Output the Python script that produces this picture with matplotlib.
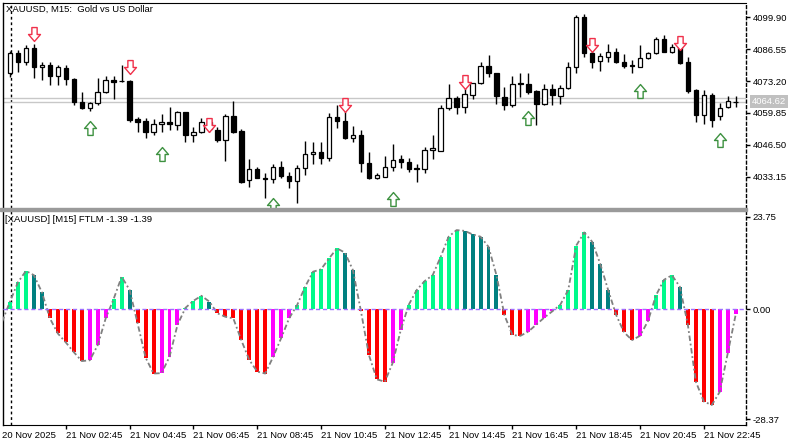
import numpy as np
import matplotlib.pyplot as plt
from matplotlib.path import Path
from matplotlib.patches import Rectangle

plt.rcParams['font.family'] = ['Liberation Sans', 'DejaVu Sans']

# XAUUSD M15, 21 Nov 2025, bars from 01:00 to 23:45
opens = [4076.45, 4085.07, 4081.05, 4086.92, 4078.96, 4079.92, 4075.32, 4078.79, 4074.06, 4064.55,
         4061.79, 4063.88, 4068.49, 4073.64, 4073.35, 4073.22, 4057.31, 4056.47, 4051.99, 4055.09,
         4056.18, 4054.80, 4060.12, 4050.61, 4051.74, 4056.18, 4052.70, 4048.51, 4058.69, 4052.28,
         4031.76, 4036.24, 4032.72, 4032.18, 4037.33, 4033.56, 4031.47, 4036.66, 4042.65, 4043.61,
         4040.85, 4058.02, 4056.47, 4049.23, 4050.61, 4038.76, 4032.47, 4033.14, 4037.08, 4040.43,
         4039.43, 4036.66, 4036.37, 4044.33, 4044.03, 4061.79, 4065.98, 4062.46, 4067.36, 4072.26,
         4079.50, 4076.45, 4066.65, 4063.17, 4072.26, 4071.84, 4069.03, 4063.46, 4069.87, 4067.07,
         4070.17, 4079.21, 4099.90, 4084.82, 4081.60, 4083.15, 4085.49, 4081.05, 4079.92, 4079.21,
         4082.73, 4084.82, 4090.81, 4085.49, 4088.30, 4081.05, 4069.45, 4058.98, 4067.36, 4058.69,
         4062.46, 4064.55]
highs = [4085.79, 4086.21, 4088.30, 4088.59, 4081.31, 4081.31, 4079.92, 4079.92, 4074.30, 4068.49,
         4064.55, 4074.61, 4075.44, 4075.44, 4079.92, 4073.50, 4058.27, 4057.60, 4057.31, 4059.28,
         4062.21, 4060.66, 4060.40, 4054.08, 4057.60, 4057.60, 4054.08, 4059.28, 4064.85, 4053.12,
         4040.56, 4037.33, 4034.57, 4038.34, 4039.84, 4035.24, 4038.04, 4048.10, 4047.80, 4047.55,
         4059.70, 4063.17, 4060.66, 4054.50, 4052.70, 4043.61, 4034.57, 4041.94, 4046.71, 4042.23,
         4040.85, 4038.34, 4045.71, 4050.61, 4063.17, 4071.97, 4067.07, 4070.58, 4072.50, 4081.05,
         4084.11, 4076.70, 4070.84, 4075.44, 4076.45, 4076.45, 4069.30, 4071.84, 4071.97, 4071.55,
         4081.05, 4100.86, 4101.16, 4087.17, 4084.82, 4088.59, 4087.17, 4084.41, 4082.02, 4088.30,
         4085.49, 4091.78, 4092.49, 4088.59, 4089.26, 4083.40, 4069.70, 4069.45, 4068.07, 4063.88,
         4067.07, 4067.07]
lows = [4075.02, 4077.12, 4079.92, 4074.35, 4073.64, 4071.55, 4071.55, 4071.55, 4063.17, 4061.50,
        4060.66, 4063.17, 4068.07, 4065.69, 4072.68, 4056.18, 4051.99, 4049.23, 4050.61, 4051.99,
        4052.70, 4052.70, 4047.80, 4047.80, 4051.45, 4051.99, 4047.55, 4039.72, 4051.32, 4030.38,
        4028.96, 4032.47, 4024.35, 4030.38, 4032.72, 4028.54, 4022.26, 4033.86, 4038.46, 4038.46,
        4039.84, 4053.67, 4049.00, 4047.80, 4035.24, 4032.20, 4032.18, 4032.90, 4035.66, 4036.66,
        4035.24, 4030.80, 4034.57, 4040.56, 4043.80, 4061.08, 4059.28, 4059.70, 4065.69, 4072.00,
        4075.02, 4063.59, 4061.08, 4062.21, 4066.40, 4067.66, 4054.80, 4063.17, 4063.17, 4063.46,
        4069.87, 4076.45, 4083.40, 4078.79, 4077.54, 4081.05, 4080.64, 4078.79, 4076.45, 4079.00,
        4082.44, 4084.41, 4085.24, 4084.82, 4080.22, 4068.07, 4055.93, 4055.09, 4054.08, 4056.89,
        4061.79, 4062.46]
closes = [4085.07, 4081.05, 4086.92, 4078.96, 4079.92, 4075.32, 4079.21, 4074.06, 4064.30, 4061.79,
          4063.88, 4068.49, 4073.64, 4072.93, 4073.10, 4056.89, 4056.18, 4051.99, 4055.09, 4056.18,
          4055.34, 4060.12, 4050.61, 4051.99, 4056.18, 4052.99, 4048.51, 4058.69, 4051.74, 4031.05,
          4036.24, 4032.72, 4032.18, 4037.33, 4033.44, 4031.47, 4036.92, 4042.65, 4043.61, 4040.85,
          4058.02, 4056.47, 4049.40, 4050.61, 4038.76, 4032.47, 4033.86, 4037.08, 4040.14, 4039.43,
          4036.24, 4036.37, 4044.33, 4045.29, 4061.79, 4065.98, 4062.46, 4067.66, 4072.26, 4079.50,
          4076.45, 4066.94, 4063.17, 4071.97, 4071.84, 4068.74, 4063.46, 4069.87, 4067.36, 4070.17,
          4079.21, 4099.90, 4084.82, 4081.31, 4083.69, 4085.49, 4081.05, 4079.63, 4079.38, 4082.73,
          4084.82, 4090.81, 4085.49, 4087.59, 4080.64, 4069.16, 4058.98, 4067.36, 4056.89, 4062.04,
          4064.85, 4064.62]
ask = 4065.95

# signal arrows (bar index, price)
sell_bars = [3, 15, 25, 42, 57, 73, 84]
sell_prices = [4092.8, 4079.1, 4054.9, 4063.2, 4073.0, 4088.3, 4089.1]
buy_bars = [10, 19, 33, 48, 65, 79, 89]
buy_prices = [4053.5, 4042.7, 4021.4, 4023.7, 4057.6, 4069.2, 4048.4]

# FTLM histogram, first value belongs to the last bar of 20 Nov
ftlm = [-3.3,
        1.9, 6.9, 9.8, 8.7, 4.3, -2.4, -6.3, -8.6, -11.1, -13.4,
        -13.2, -9.3, -2.4, 2.6, 8.3, 4.9, -3.7, -12.5, -16.6, -16.5,
        -12.3, -4.1, 0.3, 2.1, 3.4, 1.9, -1.1, -2.0, -2.4, -8.0,
        -13.1, -16.1, -16.6, -12.3, -7.5, -2.4, 1.0, 5.7, 9.6, 10.2,
        13.0, 15.6, 14.5, 10.0, -0.5, -11.8, -18.1, -18.7, -13.8, -5.4,
        1.1, 4.9, 7.2, 8.7, 13.4, 18.6, 20.3, 20.1, 19.2, 18.6,
        16.0, 8.7, -1.6, -6.7, -6.9, -5.8, -4.0, -2.2, -0.6, 1.1,
        4.9, 16.3, 19.7, 17.3, 11.7, 4.9, -1.5, -6.0, -8.0, -6.9,
        -3.1, 3.5, 7.5, 8.7, 5.7, -4.1, -18.7, -23.8, -24.7, -21.3,
        -11.4, -1.39]

price_ticks = [4099.90, 4086.55, 4073.20, 4059.85, 4046.50, 4033.15]
ftlm_ticks = [23.75, 0.00, -28.37]
time_bars = [7, 15, 23, 31, 39, 47, 55, 63, 71, 79, 87]
time_labels = ["21 Nov 02:45", "21 Nov 04:45", "21 Nov 06:45", "21 Nov 08:45",
               "21 Nov 10:45", "21 Nov 12:45", "21 Nov 14:45", "21 Nov 16:45",
               "21 Nov 18:45", "21 Nov 20:45", "21 Nov 22:45"]

W, H = 800, 446
FS = 6.8


def px_box(x0, y0, x1, y1):
    return [x0 / W, 1 - y1 / H, (x1 - x0) / W, (y1 - y0) / H]


fig = plt.figure(figsize=(W / 100, H / 100), dpi=100)
ax1 = fig.add_axes(px_box(3, 3, 746, 208))
ax2 = fig.add_axes(px_box(3, 211, 746, 425))

step = 7.975  # pixels per bar
xlim = ((3 - 10) / step, (746 - 10) / step)

for ax in (ax1, ax2):
    ax.set_xlim(*xlim)
    ax.spines['left'].set_linewidth(1)
    ax.spines['right'].set_linestyle((0, (2, 2)))
    ax.spines['right'].set_linewidth(1)
    ax.axvline(0.1, color='black', lw=1, ls=(0, (2, 2)), zorder=1)
    ax.yaxis.tick_right()
    ax.tick_params(axis='y', direction='out', length=3, width=1, pad=2, labelsize=FS)
ax1.spines['bottom'].set_visible(False)
ax2.spines['top'].set_visible(False)

# ---- price panel
o, h, l, c = map(np.array, (opens, highs, lows, closes))
idx = np.arange(len(o))
ax1.axhline(c[-1], color='#c8c8c8', lw=1, zorder=1)
ax1.axhline(ask, color='#c8c8c8', lw=1, zorder=1)
ax1.vlines(idx, l, h, color='black', lw=1, zorder=2)
body_col = np.where(c >= o, 'white', 'black')
ax1.bar(idx, np.abs(c - o), bottom=np.minimum(o, c), width=0.56, color=body_col,
        edgecolor='black', linewidth=0.9, zorder=3)

up_path = Path([(0, 0.5), (0.43, 0.0), (0.19, 0.0), (0.19, -0.5), (-0.19, -0.5),
                (-0.19, 0.0), (-0.43, 0.0), (0, 0.5)],
               [Path.MOVETO] + [Path.LINETO] * 6 + [Path.CLOSEPOLY])
down_path = Path(up_path.vertices * [1, -1], up_path.codes)
ax1.plot(sell_bars, sell_prices, ls='none', marker=down_path, ms=10, mfc='white',
         mec='#f0304a', mew=1.0, zorder=4)
ax1.plot(buy_bars, buy_prices, ls='none', marker=up_path, ms=10, mfc='white',
         mec='#3d9140', mew=1.0, zorder=4)

ax1.set_ylim(4020.03, 4105.89)
ax1.set_xticks([])
ax1.set_yticks(price_ticks)
ax1.set_yticklabels([f"{p:.2f}" for p in price_ticks])
ax1.annotate(f"{c[-1]:.2f}", xy=(1, c[-1]), xycoords=('axes fraction', 'data'),
             xytext=(6, 0), textcoords='offset pixels', ha='left', va='center',
             fontsize=FS, color='white',
             bbox=dict(boxstyle='square,pad=0.2', fc='#c0c0c0', ec='none'))

# ---- indicator panel
v = np.array(ftlm)
xv = np.arange(-1, len(v) - 1)
prev = np.concatenate([[v[0]], v[:-1]])
rising = v >= prev
bar_col = np.where(v >= 0, np.where(rising, '#00fa8a', '#008080'),
                   np.where(rising, '#ff00ff', '#ff0000'))
ax2.bar(xv, v, width=0.5, color=bar_col, zorder=2)
ax2.plot(xv, v, color='#808080', lw=1.3, ls=(0, (3, 1.5, 1, 1.5)), zorder=3)
ax2.axhline(0, color='#9f6fff', lw=1, ls=(0, (3, 2)), zorder=4)
ax2.set_ylim(-29.84, 25.21)
ax2.set_yticks(ftlm_ticks)
ax2.set_yticklabels([f"{t:.2f}" for t in ftlm_ticks])
ax2.set_xticks(time_bars)
ax2.set_xticklabels(time_labels, ha='left')
ax2.tick_params(axis='x', direction='out', length=3, width=1, pad=1.5, labelsize=FS)
ax2.annotate("20 Nov 2025", xy=(-1, 0), xycoords=('data', 'axes fraction'),
             xytext=(0, -4.5), textcoords='offset points', ha='left', va='top',
             fontsize=FS, annotation_clip=False)

# panel separator
fig.add_artist(Rectangle((0, 1 - 211 / H), 747 / W, 3 / H, transform=fig.transFigure,
                         color='#9a9a9a', zorder=10))

fig.text(6 / W, 1 - 9.7 / H, "XAUUSD, M15:  Gold vs US Dollar", fontsize=FS,
         ha='left', va='center')
fig.text(5 / W, 1 - 220 / H, f"[XAUUSD] [M15] FTLM {v[-1]:.2f} {v[-1]:.2f}",
         fontsize=FS, ha='left', va='center')

fig.savefig('out.png', dpi=100)
